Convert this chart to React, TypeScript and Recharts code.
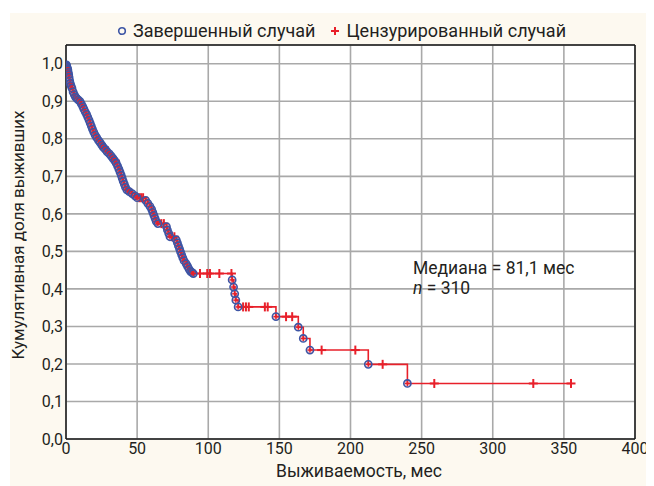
import React from 'react';
import { ComposedChart, Line, Scatter, XAxis, YAxis, CartesianGrid } from 'recharts';

// Events (completed cases): time in months, cumulative survival after the event
const eventTimes = [
  0.3, 0.5, 0.8, 1.0, 1.3, 1.6, 1.9, 2.2, 2.6, 3.0, 3.5, 4.2, 5.0, 5.8, 6.6, 7.5, 8.6, 9.8,
  10.8, 11.8, 12.6, 13.5, 14.5, 15.3, 16.2, 17.0, 17.8, 18.6, 19.5, 20.5, 21.6, 22.8, 24.0,
  25.2, 26.3, 27.8, 29.0, 30.5, 31.8, 33.0, 34.2, 35.3, 36.3, 37.2, 38.0, 38.8, 39.5, 40.2,
  41.0, 41.8, 42.8, 44.5, 46.5, 48.5, 50.0, 56.0, 57.5, 59.0, 60.2, 61.0, 61.8, 62.6, 63.4,
  64.6, 70.6, 71.3, 72.2, 73.1, 77.5, 78.3, 79.0, 79.8, 80.5, 81.3, 82.1, 83.0, 84.5, 85.5,
  86.5, 87.5, 88.5, 89.5, 116.8, 117.8, 118.6, 119.4, 121.0, 147.6, 163.3, 166.8, 171.5,
  212.5, 240.0,
];
const eventSurv = [
  0.997, 0.994, 0.99, 0.987, 0.984, 0.977, 0.971, 0.964, 0.955, 0.948, 0.942, 0.935, 0.925,
  0.918, 0.912, 0.908, 0.904, 0.9, 0.893, 0.886, 0.879, 0.872, 0.865, 0.858, 0.85, 0.842,
  0.834, 0.826, 0.818, 0.81, 0.803, 0.796, 0.79, 0.783, 0.777, 0.771, 0.765, 0.76, 0.754,
  0.748, 0.742, 0.735, 0.727, 0.719, 0.711, 0.703, 0.695, 0.687, 0.679, 0.671, 0.664, 0.659,
  0.654, 0.648, 0.643, 0.636, 0.628, 0.62, 0.612, 0.604, 0.596, 0.588, 0.58, 0.574, 0.566,
  0.557, 0.548, 0.539, 0.531, 0.523, 0.515, 0.507, 0.499, 0.491, 0.483, 0.475, 0.467, 0.46,
  0.453, 0.447, 0.444, 0.441, 0.424, 0.405, 0.387, 0.37, 0.352, 0.326, 0.298, 0.268, 0.237,
  0.199, 0.148,
];

// Censored cases
const censTimes = [
  27.0, 34.7, 43.5, 51.5, 52.8, 54.2, 67.0, 68.8, 74.5, 76.2, 94.2, 99.3, 101.2, 107.8,
  116.3, 124.5, 126.5, 128.5, 139.8, 141.8, 154.7, 159.0, 179.7, 203.4, 222.6, 258.9, 328.5,
  355.0,
];
const censSurv = [
  0.777, 0.742, 0.664, 0.643, 0.643, 0.643, 0.574, 0.574, 0.539, 0.539, 0.441, 0.441, 0.441,
  0.441, 0.441, 0.352, 0.352, 0.352, 0.352, 0.352, 0.326, 0.326, 0.237, 0.237, 0.199, 0.148,
  0.148, 0.148,
];

const xTicks = [0, 50, 100, 150, 200, 250, 300, 350, 400];
const yTicks = [0, 0.1, 0.2, 0.3, 0.4, 0.5, 0.6, 0.7, 0.8, 0.9, 1.0];
const xMinorTicks = [
  0, 10, 20, 30, 40, 50, 60, 70, 80, 90, 100, 110, 120, 130, 140, 150, 160, 170, 180, 190, 200,
  210, 220, 230, 240, 250, 260, 270, 280, 290, 300, 310, 320, 330, 340, 350, 360, 370, 380, 390, 400,
];
const yMinorTicks = [
  0, 0.025, 0.05, 0.075, 0.1, 0.125, 0.15, 0.175, 0.2, 0.225, 0.25, 0.275, 0.3, 0.325, 0.35,
  0.375, 0.4, 0.425, 0.45, 0.475, 0.5, 0.525, 0.55, 0.575, 0.6, 0.625, 0.65, 0.675, 0.7, 0.725,
  0.75, 0.775, 0.8, 0.825, 0.85, 0.875, 0.9, 0.925, 0.95, 0.975, 1.0, 1.025, 1.05,
];

const events = eventTimes.map((t, i) => ({ t, s: eventSurv[i] }));
const censored = censTimes.map((t, i) => ({ t, s: censSurv[i] }));
const curve = [{ t: 0, s: 1 }, ...events, ...censored].sort((a, b) => a.t - b.t);

const RED = '#e8202a';
const BLUE = '#3d55a5';
const TEXT = '#231f20';
const FONT = 'Roboto, "Noto Sans", sans-serif';

const EventMark = (props: any) => {
  const { cx, cy } = props;
  if (cx == null || cy == null) return null;
  return (
    <g>
      <circle cx={cx} cy={cy} r={3.6} fill="#c0394f" fillOpacity={0.25} stroke={BLUE} strokeWidth={1.6} />
      <line x1={cx - 2.5} x2={cx + 2.5} y1={cy} y2={cy} stroke={RED} strokeWidth={1.4} />
      <line x1={cx} x2={cx} y1={cy - 2.5} y2={cy + 2.5} stroke={RED} strokeWidth={1.4} />
    </g>
  );
};

const CensMark = (props: any) => {
  const { cx, cy } = props;
  if (cx == null || cy == null) return null;
  return (
    <g>
      <line x1={cx - 4.5} x2={cx + 4.5} y1={cy} y2={cy} stroke={RED} strokeWidth={2} />
      <line x1={cx} x2={cx} y1={cy - 4.5} y2={cy + 4.5} stroke={RED} strokeWidth={2} />
    </g>
  );
};

const fmtY = (v: number) => v.toFixed(1).replace('.', ',');

export default function App() {
  return (
    <div
      style={{
        position: 'relative',
        width: 644,
        height: 473,
        marginLeft: 2,
        marginTop: 5,
        background: '#fdf9f0',
        fontFamily: FONT,
        color: TEXT,
      }}
    >
      <ComposedChart
        width={644}
        height={473}
        margin={{ top: 32, right: 19, left: 16, bottom: 17 }}
        style={{ fontFamily: FONT }}
      >
        <CartesianGrid stroke="#a9a9a9" strokeWidth={1.6} fill="#ffffff" fillOpacity={1} />
        <XAxis
          dataKey="t"
          type="number"
          domain={[0, 400]}
          ticks={xTicks}
          allowDataOverflow
          axisLine={{ stroke: '#1a1a1a', strokeWidth: 1.5 }}
          tickLine={false}
          tickSize={0}
          tickMargin={4}
          height={30}
          tick={{ fill: TEXT, fontSize: 16 }}
        />
        <XAxis
          xAxisId="bm"
          type="number"
          domain={[0, 400]}
          ticks={xMinorTicks}
          allowDataOverflow
          mirror
          orientation="bottom"
          axisLine={false}
          tick={false}
          tickLine={{ stroke: '#1a1a1a', strokeWidth: 1.2 }}
          tickSize={4}
        />
        <XAxis
          xAxisId="tm"
          type="number"
          domain={[0, 400]}
          ticks={xMinorTicks}
          allowDataOverflow
          mirror
          orientation="top"
          axisLine={{ stroke: '#1a1a1a', strokeWidth: 1.5 }}
          tick={false}
          tickLine={{ stroke: '#1a1a1a', strokeWidth: 1.2 }}
          tickSize={4}
        />
        <YAxis
          type="number"
          domain={[0, 1.05]}
          ticks={yTicks}
          allowDataOverflow
          tickFormatter={fmtY}
          axisLine={{ stroke: '#1a1a1a', strokeWidth: 1.5 }}
          tickLine={false}
          tickSize={0}
          tickMargin={3}
          width={40}
          tick={{ fill: TEXT, fontSize: 16 }}
        />
        <YAxis
          yAxisId="lm"
          type="number"
          domain={[0, 1.05]}
          ticks={yMinorTicks}
          allowDataOverflow
          mirror
          orientation="left"
          axisLine={false}
          tick={false}
          tickLine={{ stroke: '#1a1a1a', strokeWidth: 1.2 }}
          tickSize={4}
        />
        <YAxis
          yAxisId="rm"
          type="number"
          domain={[0, 1.05]}
          ticks={yMinorTicks}
          allowDataOverflow
          mirror
          orientation="right"
          axisLine={{ stroke: '#1a1a1a', strokeWidth: 1.5 }}
          tick={false}
          tickLine={{ stroke: '#1a1a1a', strokeWidth: 1.2 }}
          tickSize={4}
        />
        <Line
          data={curve}
          dataKey="s"
          type="stepAfter"
          stroke={RED}
          strokeWidth={1.6}
          dot={false}
          activeDot={false}
          isAnimationActive={false}
        />
        <Scatter data={censored} dataKey="s" shape={<CensMark />} isAnimationActive={false} />
        <Scatter data={events} dataKey="s" shape={<EventMark />} isAnimationActive={false} />
      </ComposedChart>

      {/* Legend */}
      <div
        style={{
          position: 'absolute',
          left: 107,
          top: 7,
          display: 'flex',
          alignItems: 'center',
          fontSize: 18,
          whiteSpace: 'nowrap',
        }}
      >
        <svg width={10} height={10} style={{ marginRight: 6 }}>
          <circle cx={5} cy={5} r={3.3} fill="none" stroke={BLUE} strokeWidth={1.6} />
        </svg>
        <span>Завершенный случай</span>
        <svg width={10} height={10} style={{ marginLeft: 15, marginRight: 6 }}>
          <line x1={1} x2={9} y1={5} y2={5} stroke={RED} strokeWidth={2} />
          <line x1={5} x2={5} y1={1} y2={9} stroke={RED} strokeWidth={2} />
        </svg>
        <span>Цензурированный случай</span>
      </div>

      {/* Annotation */}
      <div
        style={{
          position: 'absolute',
          left: 403,
          top: 245,
          fontSize: 17.5,
          lineHeight: '20px',
          whiteSpace: 'nowrap',
        }}
      >
        <div>Медиана = 81,1 мес</div>
        <div>
          <i>n</i> = 310
        </div>
      </div>

      {/* X axis title */}
      <div
        style={{
          position: 'absolute',
          left: 349,
          top: 448,
          transform: 'translateX(-50%)',
          fontSize: 17.5,
          whiteSpace: 'nowrap',
        }}
      >
        Выживаемость, мес
      </div>

      {/* Y axis title */}
      <div
        style={{
          position: 'absolute',
          left: 8,
          top: 222,
          transform: 'translate(-50%, -50%) rotate(-90deg)',
          fontSize: 17,
          whiteSpace: 'nowrap',
        }}
      >
        Кумулятивная доля выживших
      </div>
    </div>
  );
}
